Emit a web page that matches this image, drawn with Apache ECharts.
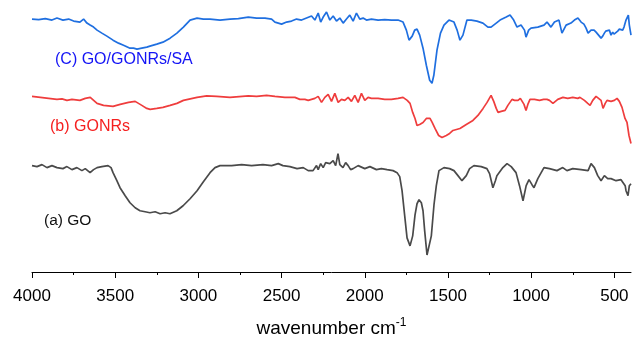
<!DOCTYPE html>
<html><head><meta charset="utf-8">
<script src="https://cdn.jsdelivr.net/npm/echarts@6/dist/echarts.min.js"></script>
<style>html,body{margin:0;padding:0;background:#fff}#c{width:632px;height:339px}</style>
</head><body><div id="c"></div>
<script>
// Wavenumber (cm-1) and offset transmittance (a.u.)
const wnC = [4000,3960,3920,3880,3850,3814,3780,3750,3712,3690,3670,3651,3630,3609,3580,3550,3513,3480,3450,3411,3390,3369,3340,3310,3291,3250,3213,3170,3129,3090,3050,3008,2970,2930,2870,2810,2760,2700,2650,2600,2560,2540,2520,2500,2470,2440,2410,2380,2350,2320,2300,2280,2265,2250,2230,2210,2190,2170,2150,2130,2110,2090,2070,2050,2030,2010,1990,1960,1920,1880,1840,1800,1770,1750,1734,1715,1700,1686,1670,1650,1630,1610,1596,1585,1566,1545,1524,1494,1464,1445,1428,1410,1386,1360,1326,1290,1260,1241,1210,1187,1150,1127,1105,1085,1061,1040,1031,1015,1001,960,923,905,881,860,833,815,790,761,740,719,700,683,670,658,640,622,610,600,590,580,570,560,552,544,530,520,510,502,490,480,470,460,450,442,430,416,410,400];
const tC = [252,251.5,252.5,251,253,251,252,250,249,252,248,246,244,241,238,235,231,228,226,223,223,222,223,224,225,227,229,233,238,244,251,253,252,252,251,252,252.5,254,253,253,252,249,248,247,249,250,252,251,253,255,251,258,249,254,259,251,255,250,253,248,252,256,250,258,252,253,251,252,251,251.5,251,251,249,241,231,235,241,242,236,223,206,191,188,196,221,238,246,251,249,241,231,236,251,251,250,248,244,244,248,251,254,256,251,244,246,241,234,241,243,244,246,249,244,249,251,238,246,248,251,253,249,247,243,238,241,241,239,237,236,233,235,238,240,239,241,236,239,237,238,240,242,243,241,244,251,256,246,236];

const wnB = [4000,3950,3900,3850,3820,3790,3760,3712,3680,3650,3609,3570,3513,3470,3420,3380,3369,3340,3310,3290,3250,3213,3170,3129,3090,3008,2950,2890,2810,2700,2650,2590,2540,2480,2420,2390,2360,2340,2300,2280,2260,2240,2220,2200,2180,2160,2140,2120,2100,2080,2060,2040,2020,2000,1980,1960,1920,1880,1840,1800,1770,1758,1745,1728,1712,1698,1686,1670,1650,1630,1608,1595,1578,1556,1536,1510,1490,1470,1428,1390,1350,1320,1289,1265,1241,1225,1210,1199,1180,1157,1140,1115,1100,1079,1065,1055,1043,1031,1020,1007,980,950,925,905,890,869,840,809,780,750,720,707,680,660,646,630,610,598,580,568,555,544,520,500,484,470,454,436,424,412,400];
const tB = [175,174,173,172,172.5,171,172,171,173,174,168,166,165,167,169,170,170,166,163,162,163,164,166,168,171,174,175.5,175,174,175.5,175,176,175,174,174,172,172,171,173,175,169,174,177,170,178,169,172,171,174,170,176,169,178,171,174,173,173,172,172,173,174,174,171,168,159,153,146,147,149,153,153,149,143,136,134,136,138,141,143,147,151,156,163,169,176,170,163,159,160,161,166,172,171,171,173,172,167,161,167,172,172,171,172,172,171,168,172,174,173,174,173,174,171,168,166,171,175,176,171,163,168,171,170,171,173,170,164,153,149,136,128];

const wnA = [4000,3970,3940,3910,3880,3850,3814,3790,3760,3730,3700,3680,3651,3630,3609,3580,3543,3525,3513,3490,3471,3440,3411,3380,3351,3320,3291,3260,3230,3200,3171,3130,3092,3050,3008,2970,2930,2900,2870,2800,2740,2680,2612,2560,2520,2492,2450,2407,2370,2340,2311,2290,2280,2265,2250,2235,2227,2210,2190,2175,2161,2150,2131,2115,2100,2085,2070,2040,2000,1969,1930,1900,1866,1830,1806,1790,1776,1760,1746,1728,1712,1698,1686,1674,1660,1650,1640,1626,1614,1600,1584,1570,1554,1524,1490,1464,1440,1416,1390,1370,1344,1300,1266,1250,1230,1215,1206,1170,1145,1120,1091,1070,1049,1030,1013,995,983,960,923,890,845,810,785,750,700,658,640,620,600,580,560,540,520,490,460,448,435,430,418,410,400];
const tA = [106,105,107,104,106,104,103,105,102,104,101,103,99,102,104,105,106,104,99,91,84,76,69,64,61,60,59,60,58,59,58,61,66,73,81,90,99,104,106,106,107,106,107,106,108,106,105,103,104,101,101,106,102,108,104,109,108,108,111,106,118,107,104,109,106,102,103,106,103,105,102,103,102,101,99,95,81,56,34,26,36,57,68,72,69,61,41,17,16,36,67,86,101,104,103,101,96,91,96,103,106,105,103,98,84,91,96,104,108,105,99,86,71,86,92,87,84,93,104,103,101,104,101,103,102,101,108,104,96,91,96,93,93,91,92,91,86,81,76,86,88];

const majorTicks = [4000,3500,3000,2500,2000,1500,1000,500];
const minorTicks = [3750,3250,2750,2250,1750,1250,750];
const seriesNames = ['(C) GO/GONRs/SA','(b) GONRs','(a) GO'];

const zip = (w,t) => w.map((x,i)=>[x,t[i]]);
const chart = echarts.init(document.getElementById('c'), null, {renderer:'canvas'});
const baseX = {
  type:'value', min:400, max:4000, inverse:true, position:'bottom',
  splitLine:{show:false}
};
chart.setOption({
  animation:false,
  grid:{left:32, right:1, top:0, bottom:67, containLabel:false, outerBoundsMode:'none'},
  xAxis:[
    Object.assign({}, baseX, {
      axisLine:{show:true, lineStyle:{color:'#000', width:1}},
      axisTick:{show:true, inside:false, length:6, lineStyle:{color:'#000'}, customValues:majorTicks},
      axisLabel:{show:true, customValues:majorTicks, formatter:v=>String(v), fontFamily:'Liberation Sans', fontSize:17, color:'#000', margin:16},
      name:'{a|wavenumber cm}{s|-1}', nameLocation:'middle', nameGap:45,
      nameTextStyle:{rich:{a:{fontFamily:'Liberation Sans', fontSize:19, color:'#000'}, s:{fontFamily:'Liberation Sans', fontSize:12, color:'#000', verticalAlign:'top', padding:[0,0,12,0]}}}
    }),
    Object.assign({}, baseX, {
      axisLine:{show:false},
      axisTick:{show:true, inside:false, length:3, lineStyle:{color:'#000'}, customValues:minorTicks},
      axisLabel:{show:false}
    })
  ],
  yAxis:{type:'value', min:0, max:271, show:false},
  series:[
    {name:seriesNames[0], type:'line', data:zip(wnC,tC), showSymbol:false, lineStyle:{color:'#1f6fe0', width:1.7}, xAxisIndex:0},
    {name:seriesNames[1], type:'line', data:zip(wnB,tB), showSymbol:false, lineStyle:{color:'#ef3d3d', width:1.7}, xAxisIndex:0},
    {name:seriesNames[2], type:'line', data:zip(wnA,tA), showSymbol:false, lineStyle:{color:'#4a4a4a', width:1.7}, xAxisIndex:0}
  ],
  graphic:[
    {type:'text', left:55, top:52, style:{text:seriesNames[0], fill:'#1414f5', font:'16px "Liberation Sans"'}},
    {type:'text', left:50, top:119, style:{text:seriesNames[1], fill:'#f52020', font:'16px "Liberation Sans"'}},
    {type:'text', left:44, top:213, style:{text:seriesNames[2], fill:'#111', font:'15.5px "Liberation Sans"'}}
  ]
});
</script></body></html>
